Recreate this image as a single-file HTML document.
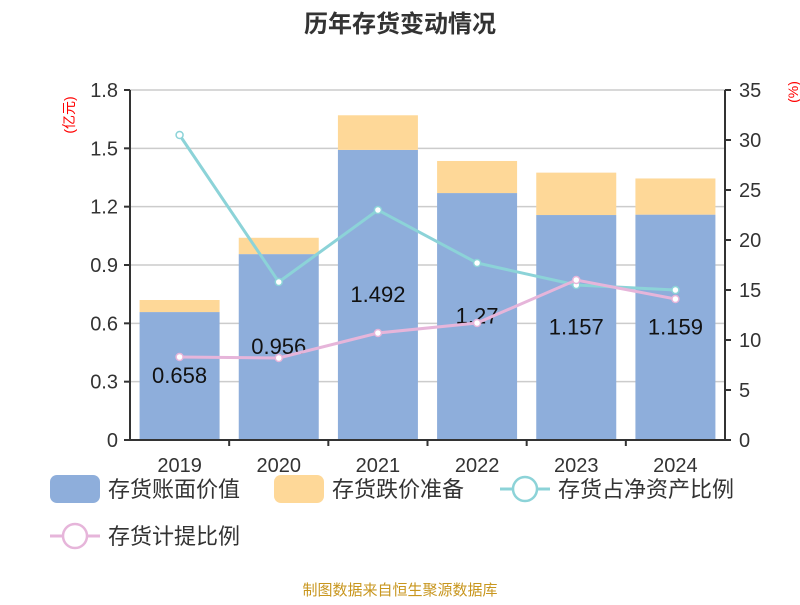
<!DOCTYPE html>
<html><head><meta charset="utf-8"><style>
body{margin:0;background:#fff;font-family:"Liberation Sans","Noto Sans CJK SC",sans-serif}
</style></head><body>
<svg id="c" width="800" height="600" style="font-family:'Liberation Sans','Noto Sans CJK SC',sans-serif">
<text x="400" y="32" text-anchor="middle" font-size="24" font-weight="bold" fill="#333">历年存货变动情况</text>
<text transform="translate(74,115) rotate(-90)" text-anchor="middle" font-size="14" fill="#f00">(亿元)</text>
<text transform="translate(798,92) rotate(-90)" text-anchor="middle" font-size="14" fill="#f00">(%)</text>
<text x="400" y="595" text-anchor="middle" font-size="15" fill="#c8961e">制图数据来自恒生聚源数据库</text>
<g id="grid"></g><g id="bars"></g><g id="axes"></g><g id="lines"></g><g id="legend"></g>
</svg>
<script>
const categories=["2019","2020","2021","2022","2023","2024"];
const bookValue=[0.658,0.956,1.492,1.27,1.157,1.159];
const impairment=[0.062,0.084,0.178,0.165,0.218,0.186];
const ratioNet=[30.5,15.8,23.0,17.7,15.5,15.0];
const ratioProvision=[8.3,8.2,10.7,11.7,16.0,14.1];
const leftTicks=[0,0.3,0.6,0.9,1.2,1.5,1.8];
const rightTicks=[0,5,10,15,20,25,30,35];
const NS="http://www.w3.org/2000/svg";
const X0=130,X1=725,Y0=440,Y1=90;
const bw=(X1-X0)/categories.length;
const xc=i=>X0+bw*(i+0.5);
const yl=v=>Y0-(v/1.8)*(Y0-Y1);
const yr=v=>Y0-(v/35)*(Y0-Y1);
function mk(t,a,p){const e=document.createElementNS(NS,t);for(const k in a)e.setAttribute(k,a[k]);p.appendChild(e);return e;}
const G=document.getElementById('grid'),B=document.getElementById('bars'),A=document.getElementById('axes'),L=document.getElementById('lines'),LG=document.getElementById('legend');
leftTicks.forEach(v=>{
 if(v>0){const g=mk('line',{x1:X0,x2:X1,y1:yl(v),y2:yl(v),stroke:'#ccc','stroke-width':1.5},G);
 
 }
 const tk=mk('line',{x1:X0-6,x2:X0,y1:yl(v),y2:yl(v),stroke:'#333','stroke-width':2},A);
 
 
 const t=mk('text',{x:X0-12,y:yl(v)+7,'text-anchor':'end','font-size':20,fill:'#333'},A);t.textContent=v.toFixed(1).replace('0.0','0').replace(/^0$/,'0');
 if(v===0)t.textContent='0';
 
 
});
rightTicks.forEach(v=>{
 const tk=mk('line',{x1:X1,x2:X1+6,y1:yr(v),y2:yr(v),stroke:'#333','stroke-width':2},A);
 
 
 const t=mk('text',{x:X1+14,y:yr(v)+7,'font-size':20,fill:'#333'},A);t.textContent=v;
 
 
});
[[X0,Y1,X0,Y0],[X1,Y1,X1,Y0],[X0,Y0,X1,Y0]].forEach(p=>{const l=mk('line',{x1:p[0],y1:p[1],x2:p[2],y2:p[3],stroke:'#333','stroke-width':2},A);
 
 });
categories.forEach((c,i)=>{
 if(i>0){const tk=mk('line',{x1:X0+bw*i,x2:X0+bw*i,y1:Y0,y2:Y0+6,stroke:'#333','stroke-width':2},A);
 
 }
 const t=mk('text',{x:xc(i),y:Y0+32,'text-anchor':'middle','font-size':20,fill:'#333'},A);t.textContent=c;
 
 
 const w=80,x=xc(i)-w/2;
 const b1=mk('rect',{x:x,y:yl(bookValue[i]),width:w,height:Y0-yl(bookValue[i]),fill:'#8eaedb'},B);
 
 
 const tot=bookValue[i]+impairment[i];
 const b2=mk('rect',{x:x,y:yl(tot),width:w,height:yl(bookValue[i])-yl(tot),fill:'#fed898'},B);
 
 
 const lb=mk('text',{x:xc(i),y:(yl(bookValue[i])+Y0)/2+7,'text-anchor':'middle','font-size':22,fill:'#111'},L);lb.textContent=bookValue[i];
 
 
});
function series(vals,color,name){
 const pl=mk('polyline',{points:vals.map((v,i)=>xc(i)+','+yr(v)).join(' '),fill:'none',stroke:color,'stroke-width':3},L);
 
 
 vals.forEach((v,i)=>{const c=mk('circle',{cx:xc(i),cy:yr(v),r:3.5,fill:'#fff',stroke:color,'stroke-width':1.5},L);
 
 });
}
series(ratioNet,'#8cd3d8','ratio-net-assets');
series(ratioProvision,'#e6b5da','ratio-provision');
function leg(x,y,type,color,label,name){
 const g=mk('g',{},LG);
 
 
 if(type==='rect')mk('rect',{x:x,y:y-14,width:50,height:28,rx:7,fill:color},g);
 else{mk('line',{x1:x,x2:x+50,y1:y,y2:y,stroke:color,'stroke-width':3},g);mk('circle',{cx:x+25,cy:y,r:12,fill:'#fff',stroke:color,'stroke-width':2.5},g);}
 const t=mk('text',{x:x+58,y:y+8,'font-size':22,fill:'#333'},g);t.textContent=label;
}
leg(50,489,'rect','#8eaedb','存货账面价值','legend-book-value');
leg(274,489,'rect','#fed898','存货跌价准备','legend-impairment');
leg(500,489,'line','#8cd3d8','存货占净资产比例','legend-ratio-net-assets');
leg(50,536,'line','#e6b5da','存货计提比例','legend-ratio-provision');
</script>
</body></html>
